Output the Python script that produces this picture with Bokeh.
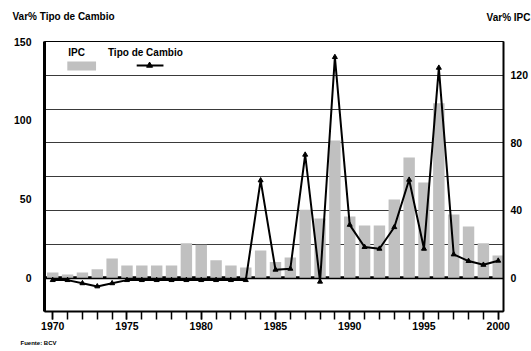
from bokeh.plotting import figure
from bokeh.models import (Range1d, LinearAxis, FixedTicker, Grid, Label, Span,
                          ColumnDataSource)
from bokeh.embed import file_html
from bokeh.resources import INLINE

# ---- data ----
years = list(range(1970, 2001))
ipc = [3.1, 2.0, 3.1, 5.1, 11.4, 7.3, 7.3, 7.3, 7.3, 20.5, 19.5, 10.3, 7.3, 6.1,
       16.2, 9.3, 12.0, 40.3, 35.1, 81.3, 36.3, 31.0, 31.0, 46.4, 71.3, 56.5,
       103.4, 37.5, 30.4, 20.5, 13.2]
tipo_cambio = [-1.5, -1.5, -3.5, -5.5, -3.5, -1.5, -1.5, -1.5, -1.5, -1.5, -1.5,
               -1.5, -1.5, -1.5, 61.8, 5.1, 5.7, 78.1, -2.5, 140.1, 33.6, 19.5,
               18.4, 32.1, 62.2, 18.4, 133.3, 14.8, 10.6, 8.2, 10.8]
left_ticks = [0, 50, 100, 150]
right_ticks = [0, 40, 80, 120]
right_grid = [20, 40, 60, 80, 100, 120]
year_labels = [1970, 1975, 1980, 1985, 1990, 1995, 2000]

FONT = "Liberation Sans"

# ---- layout constants ----
W, H = 531, 351
FL, FR, FT, FB = 44, 507, 41, 311
X0, X1 = 1969.446, 2000.354
YL0, YL1 = -20 * 150 / 140, 150
SX = (FR - FL) / (X1 - X0)
SY = (FB - FT) / (YL1 - YL0)


def px_x(px):
    return X0 + (px - FL) / SX


def px_y(py):
    return YL1 - (py - FT) / SY


p = figure(width=W, height=H, output_backend="svg", toolbar_location=None,
           x_range=Range1d(X0, X1), y_range=Range1d(YL0, YL1),
           min_border_left=FL, min_border_right=W - FR,
           min_border_top=FT, min_border_bottom=H - FB,
           background_fill_color="white", border_fill_color="white")
p.extra_y_ranges = {"ipc": Range1d(-20, 140)}

p.outline_line_color = "black"
p.outline_line_width = 1
p.xgrid.visible = False
p.ygrid.visible = False
p.add_layout(Grid(dimension=1, ticker=FixedTicker(ticks=right_grid),
                  y_range_name="ipc", grid_line_color="#3a3a3a",
                  grid_line_width=1), "center")

# left axis
ya = p.yaxis[0]
ya.ticker = FixedTicker(ticks=left_ticks)
ya.axis_line_width = 3
ya.axis_line_color = "black"
ya.major_tick_out = 0
ya.major_tick_in = 0
ya.minor_tick_out = 0
ya.minor_tick_in = 0
ya.major_label_standoff = 13
ya.major_label_text_font = FONT
ya.major_label_text_font_style = "bold"
ya.major_label_text_font_size = "10.5px"
ya.major_label_text_color = "black"

# right axis
ra = LinearAxis(y_range_name="ipc", ticker=FixedTicker(ticks=right_ticks))
ra.axis_line_width = 2
ra.axis_line_color = "black"
ra.major_tick_out = 0
ra.major_tick_in = 0
ra.minor_tick_out = 0
ra.minor_tick_in = 0
ra.major_label_standoff = 7
ra.major_label_text_font = FONT
ra.major_label_text_font_style = "bold"
ra.major_label_text_font_size = "10.5px"
ra.major_label_text_color = "black"
p.add_layout(ra, "right")

# bottom axis
xa = p.xaxis[0]
xa.ticker = FixedTicker(ticks=year_labels, minor_ticks=years)
xa.axis_line_width = 2
xa.axis_line_color = "black"
xa.major_tick_out = 8
xa.major_tick_in = 0
xa.minor_tick_out = 8
xa.minor_tick_in = 0
xa.major_tick_line_width = 1.5
xa.minor_tick_line_width = 1.5
xa.major_label_standoff = 2
xa.major_label_text_font = FONT
xa.major_label_text_font_style = "bold"
xa.major_label_text_font_size = "10.5px"
xa.major_label_text_color = "black"

src = ColumnDataSource(dict(year=years, ipc=ipc, tc=tipo_cambio))

p.add_layout(Span(location=0, dimension="width", line_color="black",
                  line_width=3, level="underlay"))
p.vbar(x="year", top="ipc", bottom=0, width=0.77, source=src,
       fill_color="#c0c0c0", line_color=None, y_range_name="ipc")
p.line(x="year", y="tc", source=src, line_color="black", line_width=2)
p.scatter(x="year", y="tc", source=src, marker="triangle", size=5,
          fill_color="black", line_color="black")

# legend (drawn manually to mimic layout)
p.quad(left=[px_x(67)], right=[px_x(96)], top=[px_y(61)], bottom=[px_y(70)],
       fill_color="#c0c0c0", line_color=None)
p.line(x=[px_x(137), px_x(164)], y=[px_y(65), px_y(65)], line_color="black",
       line_width=2)
p.scatter(x=[px_x(150)], y=[px_y(65)], marker="triangle", size=6,
          fill_color="black", line_color="black")


def lab(text, px, py, size="10px", align="left", place=None, sy=None):
    if place is None:
        p.add_layout(Label(x=px_x(px), y=px_y(py), text=text, text_font=FONT,
                           text_font_style="bold", text_font_size=size,
                           text_color="black", text_align=align,
                           text_baseline="middle"))
    else:
        p.add_layout(Label(x=px - FL, y=sy, x_units="screen",
                           y_units="screen", text=text, text_font=FONT,
                           text_font_style="bold", text_font_size=size,
                           text_color="black", text_align=align,
                           text_baseline="middle"), place)


lab("IPC", 68, 52)
lab("Tipo de Cambio", 108, 52)
lab("Var% Tipo de Cambio", 12, 16, place="above", sy=FT - 16)
lab("Var% IPC", 530, 17, align="right", place="above", sy=FT - 17 - 11)
lab("Fuente: BCV", 20, 345, size="6px", place="below", sy=-4)

open("out.html", "w").write(file_html(p, INLINE))
